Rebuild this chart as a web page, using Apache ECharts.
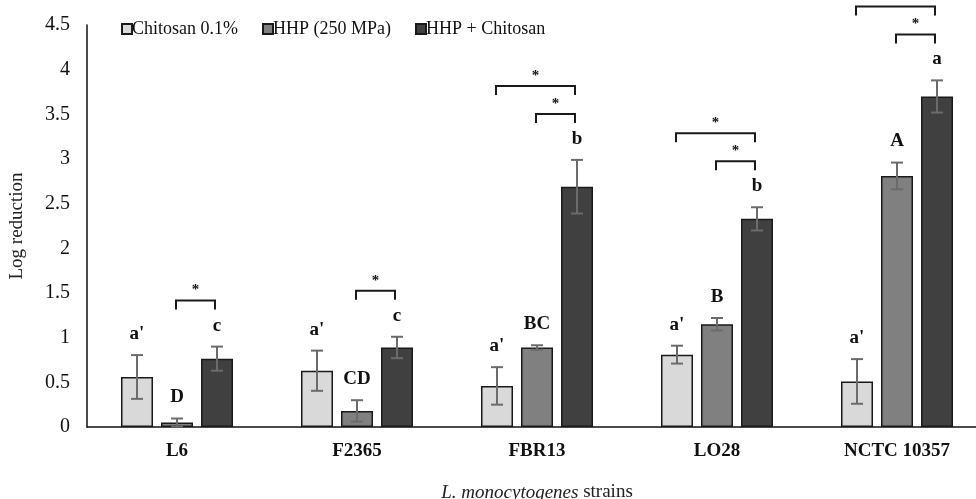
<!DOCTYPE html>
<html>
<head>
<meta charset="utf-8">
<script src="https://cdn.jsdelivr.net/npm/echarts@6/dist/echarts.min.js"></script>
<style>html,body{margin:0;padding:0;background:#fff}#c{width:976px;height:499px}</style>
</head>
<body>
<div id="c"></div>
<script>
const categories = ['L6', 'F2365', 'FBR13', 'LO28', 'NCTC 10357'];
const seriesNames = ['Chitosan 0.1%', 'HHP (250 MPa)', 'HHP + Chitosan'];
const chitosan = [0.56, 0.63, 0.46, 0.81, 0.51];
const chitosanErr = [0.245, 0.225, 0.21, 0.10, 0.25];
const hhp = [0.05, 0.18, 0.89, 1.15, 2.81];
const hhpErr = [0.045, 0.12, 0.025, 0.07, 0.15];
const combo = [0.765, 0.89, 2.69, 2.33, 3.70];
const comboErr = [0.135, 0.12, 0.30, 0.13, 0.18];
const chitosanLetters = ["a'", "a'", "a'", "a'", "a'"];
const hhpLetters = ['D', 'CD', 'BC', 'B', 'A'];
const comboLetters = ['c', 'c', 'b', 'b', 'a'];
// [category index, from series, to series, tier]
const comparisons = [[0,1,2,0],[1,1,2,0],[2,1,2,0],[2,0,2,1],[3,1,2,0],[3,0,2,1],[4,1,2,0],[4,0,2,1]];
const yTicks = { min: 0, max: 4.5, interval: 0.5 };

const FONT = 'Liberation Serif';
const BAR_W = 32;
const STEP = BAR_W * 1.25;
const colors = ['#d9d9d9', '#808080', '#404040'];
const values = [chitosan, hhp, combo];
const errs = [chitosanErr, hhpErr, comboErr];
const letters = [chitosanLetters, hhpLetters, comboLetters];

const barSeries = seriesNames.map((n, s) => ({
  name: n, type: 'bar', data: values[s], barWidth: BAR_W, barGap: '25%',
  itemStyle: { color: colors[s], borderColor: '#1a1a1a', borderWidth: 1.5 },
  z: 2
}));

const errSeries = seriesNames.map((n, s) => ({
  type: 'custom', z: 5, silent: true, clip: false,
  data: values[s].map((v, i) => [i, v, errs[s][i], letters[s][i]]),
  encode: { x: 0, y: 1 },
  renderItem: (params, api) => {
    const i = api.value(0), v = api.value(1), e = api.value(2);
    const x = api.coord([i, v])[0] + (s - 1) * STEP;
    const yHi = api.coord([i, v + e])[1];
    const yLo = api.coord([i, Math.max(v - e, 0)])[1];
    const st = { stroke: '#6b6b6b', lineWidth: 2 };
    return { type: 'group', children: [
      { type: 'line', shape: { x1: x, y1: yHi, x2: x, y2: yLo }, style: st },
      { type: 'line', shape: { x1: x - 6, y1: yHi, x2: x + 6, y2: yHi }, style: st },
      { type: 'line', shape: { x1: x - 6, y1: yLo, x2: x + 6, y2: yLo }, style: st },
      { type: 'text', x: x, y: yHi - 21, style: { text: letters[s][i], font: 'bold 19px ' + FONT, fill: '#111', align: 'center', verticalAlign: 'middle' } }
    ]};
  }
}));

const bracketSeries = {
  type: 'custom', z: 6, silent: true, clip: false,
  data: comparisons.map(c => [c[0], combo[c[0]] + comboErr[c[0]], c[1], c[2], c[3]]),
  encode: { x: 0, y: 1 },
  renderItem: (params, api) => {
    const i = api.value(0), top = api.value(1), a = api.value(2), b = api.value(3), tier = api.value(4);
    const p = api.coord([i, top]);
    const x1 = p[0] + (a - 1) * STEP - 1, x2 = p[0] + (b - 1) * STEP - 2;
    const y = p[1] - 46 - tier * 28;
    return { type: 'group', children: [
      { type: 'polyline', shape: { points: [[x1, y + 9], [x1, y], [x2, y], [x2, y + 9]] }, style: { stroke: '#1a1a1a', lineWidth: 2, fill: null } },
      { type: 'text', x: (x1 + x2) / 2, y: y - 10, style: { text: '*', font: 'bold 15px ' + FONT, fill: '#111', align: 'center', verticalAlign: 'middle' } }
    ]};
  }
};

const chart = echarts.init(document.getElementById('c'));
chart.setOption({
  animation: false,
  backgroundColor: '#fff',
  textStyle: { fontFamily: FONT },
  grid: { left: 87, right: -11, top: 25, bottom: 72, containLabel: false, outerBoundsMode: 'none' },
  legend: {
    data: seriesNames, left: 116, top: 15, icon: 'rect', itemWidth: 10, itemHeight: 10, itemGap: 24,
    textStyle: { fontFamily: FONT, fontSize: 18, color: '#111', padding: [0, 0, 0, -5] }
  },
  xAxis: {
    type: 'category', data: categories,
    axisLine: { lineStyle: { color: '#111', width: 1.5 } }, axisTick: { show: false },
    axisLabel: { fontFamily: FONT, fontSize: 19, fontWeight: 'bold', color: '#111', margin: 15 },
    name: '{i|L. monocytogenes} strains', nameLocation: 'middle', nameGap: 56,
    nameTextStyle: { fontFamily: FONT, fontSize: 19, color: '#222', rich: { i: { fontFamily: FONT, fontSize: 19, fontStyle: 'italic', color: '#222' } } }
  },
  yAxis: {
    type: 'value', min: yTicks.min, max: yTicks.max, interval: yTicks.interval,
    splitLine: { show: false },
    axisLine: { show: true, lineStyle: { color: '#111', width: 1.5 } }, axisTick: { show: false },
    axisLabel: { fontFamily: FONT, fontSize: 20, color: '#111', margin: 17 },
    name: 'Log reduction', nameLocation: 'middle', nameGap: 60, nameRotate: 90,
    nameTextStyle: { fontFamily: FONT, fontSize: 19, color: '#222' }
  },
  series: [...barSeries, ...errSeries, bracketSeries]
});
</script>
</body>
</html>
